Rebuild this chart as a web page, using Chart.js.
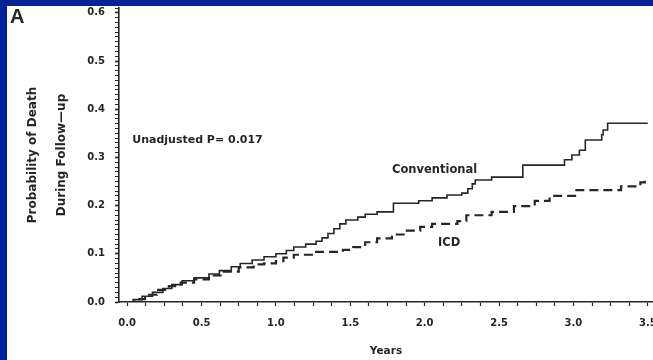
<!DOCTYPE html>
<html><head><meta charset="utf-8">
<script src="https://cdn.jsdelivr.net/npm/chart.js@4.4.0/dist/chart.umd.min.js"></script>
<style>
html,body{margin:0;padding:0;background:#00229a;width:653px;height:360px;overflow:hidden}
#wrap{position:absolute;left:7px;top:6px;width:646px;height:354px;background:#fff}
canvas{display:block}
</style></head><body>
<div id="wrap"><canvas id="c" width="646" height="354"></canvas></div>
<script>
// Kaplan-Meier style cumulative probability of death
const conventionalYears = [0, 0.04, 0.1, 0.17, 0.24, 0.3, 0.37, 0.45, 0.55, 0.62, 0.7, 0.76, 0.84, 0.92, 1.0, 1.07, 1.12, 1.2, 1.27, 1.31, 1.35, 1.39, 1.43, 1.47, 1.55, 1.6, 1.68, 1.79, 1.96, 2.05, 2.15, 2.25, 2.29, 2.32, 2.34, 2.45, 2.66, 2.94, 2.99, 3.04, 3.08, 3.19, 3.2, 3.23, 3.5];
const conventionalProb  = [0, 0.005, 0.012, 0.02, 0.028, 0.036, 0.044, 0.05, 0.058, 0.065, 0.073, 0.08, 0.087, 0.094, 0.1, 0.107, 0.114, 0.12, 0.126, 0.133, 0.142, 0.152, 0.162, 0.17, 0.176, 0.182, 0.187, 0.205, 0.21, 0.216, 0.222, 0.226, 0.235, 0.245, 0.253, 0.259, 0.284, 0.295, 0.305, 0.315, 0.336, 0.347, 0.357, 0.371, 0.371];
const icdYears = [0, 0.05, 0.12, 0.2, 0.28, 0.36, 0.45, 0.55, 0.65, 0.75, 0.85, 0.92, 1.0, 1.05, 1.12, 1.25, 1.45, 1.52, 1.6, 1.68, 1.78, 1.88, 1.97, 2.05, 2.22, 2.28, 2.45, 2.6, 2.74, 2.84, 3.02, 3.32, 3.45, 3.48];
const icdProb  = [0, 0.006, 0.015, 0.025, 0.033, 0.04, 0.047, 0.055, 0.063, 0.072, 0.078, 0.08, 0.085, 0.092, 0.098, 0.104, 0.108, 0.114, 0.124, 0.132, 0.14, 0.148, 0.156, 0.162, 0.168, 0.18, 0.187, 0.199, 0.21, 0.22, 0.232, 0.24, 0.248, 0.257];

const xTickValues = [0, 0.5, 1.0, 1.5, 2.0, 2.5, 3.0, 3.5];
const xTickLabels = ['0.0', '0.5', '1.0', '1.5', '2.0', '2.5', '3.0', '3.5'];
const yTickValues = [0, 0.1, 0.2, 0.3, 0.4, 0.5, 0.6];
const yTickLabels = ['0.0', '0.1', '0.2', '0.3', '0.4', '0.5', '0.6'];

const panelLetter = 'A';
const annotationTexts = ['Unadjusted P= 0.017', 'Conventional', 'ICD'];
const annotationX = [0.034, 1.78, 2.09];
const annotationY = [0.336, 0.274, 0.122];

const INK = '#262626';
const FONT = 'DejaVu Sans';

function labelFor(values, labels, v) {
  const i = values.findIndex(t => Math.abs(t - v) < 1e-6);
  return i >= 0 ? labels[i] : '';
}
function isMajor(values, v) { return values.some(t => Math.abs(t - v) < 1e-6); }

const textPlugin = {
  id: 'texts',
  afterDraw(chart) {
    const ctx = chart.ctx;
    const xs = chart.scales.x, ys = chart.scales.y;
    ctx.save();
    ctx.fillStyle = INK;
    ctx.textBaseline = 'alphabetic';
    ctx.font = 'bold 20px "Liberation Sans"';
    ctx.fillText(panelLetter, 3, 17);
    ctx.textBaseline = 'middle';
    const sizes = [11, 11.5, 11.5];
    annotationTexts.forEach((t, i) => {
      ctx.font = 'bold ' + sizes[i] + 'px "' + FONT + '"';
      ctx.fillText(t, xs.getPixelForValue(annotationX[i]), ys.getPixelForValue(annotationY[i]));
    });
    ctx.restore();
  }
};

new Chart(document.getElementById('c'), {
  type: 'line',
  data: {
    datasets: [
      {
        label: 'Conventional',
        data: conventionalYears.map((x, i) => ({x, y: conventionalProb[i]})),
        stepped: 'before',
        borderColor: INK,
        borderWidth: 1.6,
        pointRadius: 0,
        fill: false
      },
      {
        label: 'ICD',
        data: icdYears.map((x, i) => ({x, y: icdProb[i]})),
        stepped: 'before',
        borderColor: INK,
        borderWidth: 2.2,
        borderDash: [9, 5],
        pointRadius: 0,
        fill: false
      }
    ]
  },
  options: {
    responsive: false,
    animation: false,
    layout: {padding: {top: 2, left: 0, right: 0, bottom: 0}},
    plugins: {legend: {display: false}, tooltip: {enabled: false}},
    scales: {
      x: {
        type: 'linear',
        min: -0.055,
        max: 3.535,
        grid: {drawOnChartArea: false, tickLength: 4, tickColor: INK, tickWidth: 1.2},
        border: {color: INK, width: 1.6},
        ticks: {
          stepSize: 0.125,
          includeBounds: false,
          autoSkip: false,
          maxRotation: 0,
          padding: 11,
          color: INK,
          font: {family: FONT, size: 10, weight: 'bold'},
          callback: v => labelFor(xTickValues, xTickLabels, v)
        },
        title: {display: true, text: 'Years', color: INK, font: {family: FONT, size: 10.5, weight: 'bold'}, padding: {top: 0, bottom: 2}},
        afterFit(s) { s.height = 58; s.paddingLeft = 0; s.paddingRight = 0; }
      },
      y: {
        type: 'linear',
        min: 0,
        max: 0.61,
        grid: {
          drawOnChartArea: false,
          tickLength: 4,
          tickColor: INK,
          tickWidth: c => isMajor(yTickValues, c.tick.value) ? 1.6 : 1
        },
        border: {color: INK, width: 1.6},
        ticks: {
          stepSize: 0.01,
          autoSkip: false,
          padding: 10,
          color: INK,
          font: {family: FONT, size: 10, weight: 'bold'},
          callback: v => labelFor(yTickValues, yTickLabels, v)
        },
        title: {
          display: true,
          text: ['Probability of Death', 'During Follow\u2014up'],
          color: INK,
          font: {family: FONT, size: 12, weight: 'bold', lineHeight: 29 / 12},
          padding: {top: 11.5, bottom: 0}
        },
        afterFit(s) { s.width = 112; s.paddingTop = 0; s.paddingBottom = 0; }
      }
    }
  },
  plugins: [textPlugin]
});
</script>
</body></html>
